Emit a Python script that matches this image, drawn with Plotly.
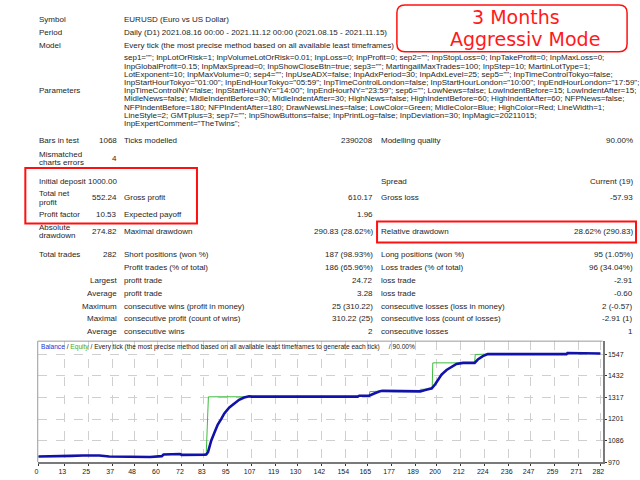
import plotly.graph_objects as go

# ---------------- data ----------------
info_labels = ["Symbol", "Period", "Model"]
info_values = [
    "EURUSD (Euro vs US Dollar)",
    "Daily (D1) 2021.08.16 00:00 - 2021.11.12 00:00 (2021.08.15 - 2021.11.15)",
    "Every tick (the most precise method based on all available least timeframes)",
]
param_label = "Parameters"
param_lines = [
    'sep1=""; InpLotOrRisk=1; InpVolumeLotOrRisk=0.01; InpLoss=0; InpProfit=0; sep2=""; InpStopLoss=0; InpTakeProfit=0; InpMaxLoss=0;',
    'InpGlobalProfit=0.15; InpMaxSpread=0; InpShowCloseBtn=true; sep3=""; MartingailMaxTrades=100; InpStep=10; MartinLotType=1;',
    'LotExponent=10; InpMaxVolume=0; sep4=""; InpUseADX=false; InpAdxPeriod=30; InpAdxLevel=25; sep5=""; InpTimeControlTokyo=false;',
    'InpStartHourTokyo="01:00"; InpEndHourTokyo="05:59"; InpTimeControlLondon=false; InpStartHourLondon="10:00"; InpEndHourLondon="17:59";',
    'InpTimeControlNY=false; InpStartHourNY="14:00"; InpEndHourNY="23:59"; sep6=""; LowNews=false; LowIndentBefore=15; LowIndentAfter=15;',
    'MidleNews=false; MidleIndentBefore=30; MidleIndentAfter=30; HighNews=false; HighIndentBefore=60; HighIndentAfter=60; NFPNews=false;',
    'NFPIndentBefore=180; NFPIndentAfter=180; DrawNewsLines=false; LowColor=Green; MidleColor=Blue; HighColor=Red; LineWidth=1;',
    'LineStyle=2; GMTplus=3; sep7=""; InpShowButtons=false; InpPrintLog=false; InpDeviation=30; InpMagic=20211015;',
    'InpExpertComment="TheTwins";',
]

stat_c1 = ["Bars in test", "Mismatched\ncharts errors", "Initial deposit", "Total net\nprofit",
           "Profit factor", "Absolute\ndrawdown", "Total trades", "", "Largest", "Average",
           "Maximum", "Maximal", "Average"]
stat_c2 = ["1068", "4", "1000.00", "552.24", "10.53", "274.82", "282", "", "", "", "", "", ""]
stat_c3 = ["Ticks modelled", "", "", "Gross profit", "Expected payoff", "Maximal drawdown",
           "Short positions (won %)", "Profit trades (% of total)", "profit trade", "profit trade",
           "consecutive wins (profit in money)", "consecutive profit (count of wins)", "consecutive wins"]
stat_c4 = ["2390208", "", "", "610.17", "1.96", "290.83 (28.62%)", "187 (98.93%)", "186 (65.96%)",
           "24.72", "3.28", "25 (310.22)", "310.22 (25)", "2"]
stat_c5 = ["Modelling quality", "", "Spread", "Gross loss", "", "Relative drawdown",
           "Long positions (won %)", "Loss trades (% of total)", "loss trade", "loss trade",
           "consecutive losses (loss in money)", "consecutive loss (count of losses)", "consecutive losses"]
stat_c6 = ["90.00%", "", "Current (19)", "-57.93", "", "28.62% (290.83)", "95 (1.05%)", "96 (34.04%)",
           "-2.91", "-0.60", "2 (-0.57)", "-2.91 (1)", "1"]

badge_lines = ["3 Months", "Aggressiv Mode"]

chart_title_parts = ["Balance", "Equity",
                     "Every tick (the most precise method based on all available least timeframes to generate each tick)",
                     "90.00%"]

balance_trade = [0, 14, 16.5, 22.3, 30.6, 35.5, 48.7, 56.1, 61.9, 62.8, 71, 71.9, 83.4, 84.2, 85.1,
                 86.7, 88.4, 90, 91.7, 93.3, 95.8, 98.3, 100.7, 103.2, 105.7, 107, 141, 160.2, 161,
                 166, 167.6, 169.3, 171, 172.6, 176.8, 177.5, 190.8, 191.6, 194.1, 197.4, 199.1, 200.7,
                 202.3, 204.8, 207.3, 209.8, 213.1, 218.9, 220.5, 223, 225.5, 265, 265.5, 270.9, 271.2,
                 273.4, 273.6, 282]
balance_value = [1000, 1000, 1003.5, 1005.5, 1005.5, 1000, 998, 997, 1002, 1011, 1013, 1009, 1010, 1011,
                 1023, 1085, 1130, 1171, 1200, 1231, 1263, 1286, 1304, 1316, 1323, 1321, 1321, 1321,
                 1326, 1326, 1334, 1343, 1348, 1352, 1352, 1348, 1348, 1349, 1357, 1365.6, 1387, 1417,
                 1439, 1464, 1481, 1496, 1502, 1502, 1520, 1538, 1549, 1549, 1555, 1555, 1551, 1551,
                 1553, 1552.24]

equity_trade = [0, 14, 16.5, 22.3, 30.6, 35.5, 48.7, 56.1, 61.9, 62.8, 71, 71.9, 83.4, 84.2, 85.3,
                105.7, 160.2, 161, 166, 166.3, 172.6, 176.8, 177.5, 190.8, 191.6, 197.6, 197.9, 213.1,
                218.9, 219.2, 225.5, 265, 265.5, 270.9, 271.2, 273.4, 273.6, 282]
equity_value = [1000, 1000, 1003.5, 1005.5, 1005.5, 1000, 998, 997, 1002, 1011, 1013, 1009, 1010, 1011,
                1320, 1321, 1321, 1326, 1326, 1348, 1350, 1352, 1348, 1348, 1360, 1361, 1502, 1502,
                1502, 1547, 1549, 1549, 1555, 1555, 1551, 1551, 1553, 1552.24]

x_tick_labels = [0, 13, 25, 37, 48, 60, 72, 83, 95, 107, 119, 130, 142, 154, 165, 177, 189, 200,
                 212, 224, 236, 247, 259, 271, 282]
y_tick_labels = [970, 1086, 1201, 1317, 1432, 1547]

# ---------------- layout helpers ----------------
W, H = 640, 480
def X(px):
    return px / W
def Y(py):
    return 1 - py / H

TXT = "#1e1e1e"
FONT = "Liberation Sans"
FS = 8

annotations = []
def txt(px, py, s, anchor="left", size=FS, color=TXT, family=FONT):
    annotations.append(dict(x=X(px), y=Y(py), xref="paper", yref="paper", text=s,
                            showarrow=False, xanchor=anchor, yanchor="middle",
                            borderpad=0, font=dict(family=family, size=size, color=color)))

C1L, C2R, C3L, C4R, C5L, C6R = 35, 116, 121, 374, 380, 636
LINE_GAP = 8.3

# info rows
info_y = [20, 33, 45.7]
for lab, val, yy in zip(info_labels, info_values, info_y):
    txt(C1L, yy, lab)
    txt(C3L, yy, val)

# parameters
param_y0 = 58.3
for i, line in enumerate(param_lines):
    txt(C3L, param_y0 + i * 8.25, line)
txt(C1L, param_y0 + 4 * 8.25, param_label)

# stats rows
row_y = [141.7, 159.3, 182.3, 199.2, 215.7, 233.3, 256, 269.3, 282.3, 295.3, 308, 320.7, 333.5]
for i, yy in enumerate(row_y):
    c1 = stat_c1[i]
    if c1:
        parts = c1.split("\n")
        if stat_c2[i] == "" and len(parts) == 1:
            txt(C2R, yy, c1, anchor="right")
        else:
            n = len(parts)
            for k, p in enumerate(parts):
                txt(C1L, yy + (k - (n - 1) / 2) * LINE_GAP, p)
    if stat_c2[i]:
        txt(C2R, yy, stat_c2[i], anchor="right")
    if stat_c3[i]:
        txt(C3L, yy, stat_c3[i])
    if stat_c4[i]:
        txt(C4R, yy, stat_c4[i], anchor="right")
    if stat_c5[i]:
        txt(C5L, yy, stat_c5[i])
    if stat_c6[i]:
        txt(C6R, yy, stat_c6[i], anchor="right")

# badge
txt(517, 17.5, badge_lines[0], anchor="center", size=19, color="#ff1a1a", family="DejaVu Sans")
txt(526, 39, badge_lines[1], anchor="center", size=19, color="#ff1a1a", family="DejaVu Sans")

# chart title
title_html = ('<span style="color:#2a2ad0">%s</span> / <span style="color:#30b030">%s</span> / %s'
              '&nbsp;&nbsp;&nbsp;&nbsp; / %s') % tuple(chart_title_parts)
txt(37, 349.5, title_html, size=6.6, color="#202020")

# ---------------- shapes ----------------
shapes = []
RED = "#ff1010"
def rect(x0, y0, x1, y1, color=RED, width=2):
    shapes.append(dict(type="rect", xref="paper", yref="paper", x0=X(x0), x1=X(x1),
                       y0=Y(y1), y1=Y(y0), line=dict(color=color, width=width),
                       fillcolor="rgba(0,0,0,0)", layer="above"))

rect(22.5, 169, 195.5, 225)
rect(377, 223, 638, 244)

# rounded badge box
bx0, by0, bx1, by1, r = 397, 5, 629, 52, 8
def P(px, py):
    return "%.5f,%.5f" % (X(px), Y(py))
path = ("M " + P(bx0 + r, by0) + " L " + P(bx1 - r, by0) + " Q " + P(bx1, by0) + " " + P(bx1, by0 + r) +
        " L " + P(bx1, by1 - r) + " Q " + P(bx1, by1) + " " + P(bx1 - r, by1) +
        " L " + P(bx0 + r, by1) + " Q " + P(bx0, by1) + " " + P(bx0, by1 - r) +
        " L " + P(bx0, by0 + r) + " Q " + P(bx0, by0) + " " + P(bx0 + r, by0) + " Z")
shapes.append(dict(type="path", xref="paper", yref="paper", path=path,
                   line=dict(color=RED, width=1.5)))

# chart box thin left/top border
CL, CR, CT, CB = 35, 604.3, 343.3, 465
shapes.append(dict(type="line", xref="paper", yref="paper", x0=X(CL), x1=X(CL), y0=Y(CB), y1=Y(CT),
                   line=dict(color="#9a9a9a", width=1), layer="above"))
shapes.append(dict(type="line", xref="paper", yref="paper", x0=X(CL), x1=X(CR), y0=Y(CT), y1=Y(CT),
                   line=dict(color="#9a9a9a", width=1), layer="above"))

# ---------------- figure ----------------
fig = go.Figure()
fig.add_trace(go.Scatter(x=equity_trade, y=equity_value, mode="lines",
                         line=dict(color="#3cbc3c", width=1), hoverinfo="skip"))
fig.add_trace(go.Scatter(x=balance_trade, y=balance_value, mode="lines",
                         line=dict(color="#1212aa", width=2.6), hoverinfo="skip"))

y_top = 970 + (CB - CT) * (1547 - 970) / (CB - 356.7)

fig.update_layout(
    width=W, height=H, autosize=False,
    margin=dict(l=0, r=0, t=0, b=0),
    paper_bgcolor="white", plot_bgcolor="white",
    showlegend=False,
    annotations=annotations,
    shapes=shapes,
    xaxis=dict(domain=[X(CL), X(CR)], range=[-0.35, 283.1], tickvals=x_tick_labels,
               ticktext=[str(v) for v in x_tick_labels],
               showgrid=True, gridcolor="#cfcfcf", griddash="dash", gridwidth=1,
               zeroline=False, showline=True, linecolor="#7a7a7a", linewidth=2,
               ticks="outside", ticklen=2, tickcolor="#333333",
               ticklabelshift=-2,
               tickfont=dict(family=FONT, size=7, color="#202020"), fixedrange=True),
    yaxis=dict(domain=[Y(CB), Y(CT)], range=[970, y_top], side="right",
               tickvals=y_tick_labels, ticktext=[str(v) for v in y_tick_labels],
               showgrid=True, gridcolor="#cfcfcf", griddash="dash", gridwidth=1,
               zeroline=False, showline=True, linecolor="#7a7a7a", linewidth=2,
               ticks="outside", ticklen=2, tickcolor="#333333",
               tickfont=dict(family=FONT, size=7, color="#202020"), fixedrange=True),
)

fig.write_html("out.html", config={"displayModeBar": False, "staticPlot": True},
               post_script="document.body.style.margin='0';document.body.style.overflow='hidden';")
